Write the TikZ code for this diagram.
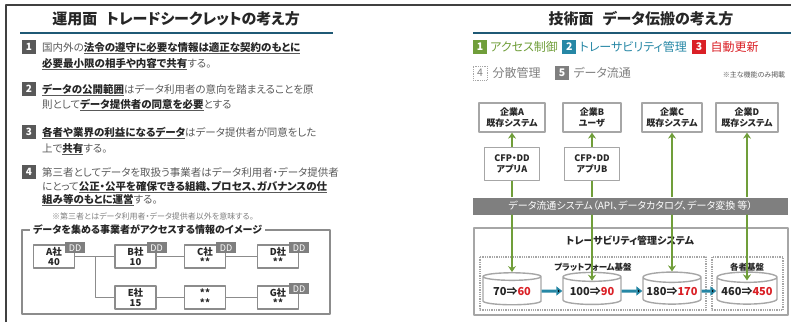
\documentclass[tikz,border=0pt]{standalone}
\usepackage{fontspec}
\setmainfont{Noto Sans CJK JP}[RawFeature={+palt}]
\usetikzlibrary{positioning,shapes.geometric,arrows.meta}
\definecolor{rulebl}{RGB}{31,89,117}
\definecolor{numgray}{RGB}{89,89,89}
\definecolor{txtgray}{RGB}{89,89,89}
\definecolor{txtdark}{RGB}{38,38,38}
\definecolor{boxgray}{RGB}{140,140,140}
\definecolor{ltgray}{RGB}{166,166,166}
\definecolor{bargray}{RGB}{127,127,127}
\definecolor{cgreen}{RGB}{112,158,58}
\definecolor{cteal}{RGB}{38,135,165}
\definecolor{cred}{RGB}{218,32,38}
\newcommand{\kw}[1]{\underline{\textbf{\color{txtdark}#1}}}
\begin{document}
\begin{tikzpicture}[x=1pt,y=-1pt,line join=bevel]
  \tikzstyle{headline}=[font=\bfseries\fontsize{15}{15}\selectfont,text=txtdark]
  \tikzstyle{numbox}=[fill=numgray,text=white,font=\bfseries\fontsize{10}{10}\selectfont,minimum size=14pt,inner sep=0pt]
  \tikzstyle{itemline}=[anchor=base west,inner sep=0pt,text=txtgray,font=\fontsize{10.5}{12}\selectfont]
  \tikzstyle{firm}=[draw=boxgray,line width=1.2pt,fill=white,minimum width=41pt,minimum height=23pt,inner sep=0pt,align=center,font=\bfseries\fontsize{9.5}{10.5}\selectfont,text=txtdark]
  \tikzstyle{ddtag}=[fill=bargray,text=white,minimum width=20pt,minimum height=11pt,inner sep=0pt,font=\fontsize{9}{9}\selectfont]
  \tikzstyle{link}=[draw=boxgray,line width=1pt]
  \tikzstyle{legbox}=[minimum size=14pt,inner sep=0pt,text=white,font=\bfseries\fontsize{10.5}{10.5}\selectfont]
  \tikzstyle{legtext}=[inner sep=0pt,font=\fontsize{12}{12}\selectfont]
  \tikzstyle{sysbox}=[draw=ltgray,line width=1.3pt,fill=white,inner sep=0pt,align=center,font=\bfseries\fontsize{9}{11.5}\selectfont,text=txtdark]
  \tikzstyle{db}=[cylinder,shape border rotate=90,aspect=0.2,draw=ltgray,line width=1.4pt,fill=white,minimum width=58pt,minimum height=32pt,inner sep=0pt,font=\bfseries\fontsize{11}{11}\selectfont,text=txtdark]
  \tikzstyle{flow}=[draw=cgreen,line width=1.8pt,-{Stealth[length=6pt,width=8pt]}]
  \tikzstyle{trace}=[draw=cteal,line width=3pt,-{Triangle[length=6pt,width=9pt]}]

  \useasboundingbox (0,0) rectangle (791,322);
  \draw[line width=2pt,black!75] (6,322) -- (6,5) -- (791,5);

  % operation side
  \node[headline] (T_L) at (176,19) {運用面\hspace{0.6em}トレードシークレットの考え方};
  \draw[rulebl,line width=2.2pt] (20,33) -- (333,33);
  \node[numbox] (N_1) at (29,47) {1};
  \node[itemline] (L_1a) at (42,51) {国内外の\kw{法令の遵守に必要な情報は適正な契約のもとに}};
  \node[itemline] (L_1b) at (42,67) {\kw{必要最小限の相手や内容で共有}する。};
  \node[numbox] (N_2) at (29,89) {2};
  \node[itemline] (L_2a) at (42,93) {\kw{データの公開範囲}はデータ利用者の意向を踏まえることを原};
  \node[itemline] (L_2b) at (42,108) {則として\kw{データ提供者の同意を必要}とする};
  \node[numbox] (N_3) at (29,132) {3};
  \node[itemline] (L_3a) at (42,136) {\kw{各者や業界の利益になるデータ}はデータ提供者が同意をした};
  \node[itemline] (L_3b) at (42,152) {上で\kw{共有}する。};
  \node[numbox] (N_4) at (29,172) {4};
  \node[itemline] (L_4a) at (42,176) {第三者としてデータを取扱う事業者はデータ利用者・データ提供者};
  \node[itemline] (L_4b) at (42,190) {にとって\kw{公正・公平を確保できる組織、プロセス、ガバナンスの仕}};
  \node[itemline] (L_4c) at (42,203) {\kw{組み等のもとに運営}する。};
  \node[itemline,text=bargray,font=\fontsize{8}{8}\selectfont] (L_n) at (52,219) {※第三者とはデータ利用者・データ提供者以外を意味する。};

  \draw[boxgray,line width=1.2pt] (22,230) rectangle (330,314);
  \node[fill=white,inner sep=3pt,anchor=west,text=txtdark,font=\bfseries\fontsize{10}{10}\selectfont] (F_T) at (30,229.5) {データを集める事業者がアクセスする情報のイメージ};
  \coordinate (J) at (95,256.5);
  \path[link] (J) |- (135.5,297.5);
  \node[firm] (A) at (54,256.5) {A社\\40};
  \node[firm] (B) at (135.5,256.5) {B社\\10};
  \node[firm] (C) at (205,256.5) {C社\\**};
  \node[firm] (D) at (278,256.5) {D社\\**};
  \node[firm] (E) at (135.5,297.5) {E社\\15};
  \node[firm] (F) at (205,297.5) {**\\**};
  \node[firm] (G) at (278,297.5) {G社\\**};
  \path[link] (A) edge (B)
              (B) edge (C)
              (C) edge (D)
              (E) edge (F)
              (F) edge (G);
  \node[ddtag] (A_dd) at ([shift={(0,3.5)}]A.north east) {DD};
  \node[ddtag] (B_dd) at ([shift={(0,3.5)}]B.north east) {DD};
  \node[ddtag] (C_dd) at ([shift={(0,3.5)}]C.north east) {DD};
  \node[ddtag] (D_dd) at ([shift={(0,3.5)}]D.north east) {DD};
  \node[ddtag] (G_dd) at ([shift={(0,3.5)}]G.north east) {DD};

  % technical side
  \node[headline] (T_R) at (641,19) {技術面\hspace{0.6em}データ伝搬の考え方};
  \draw[rulebl,line width=2.2pt] (473,33) -- (791,33);
  \node[legbox,fill=cgreen] (K_1) at (480,47) {1};
  \node[legtext,text=cgreen,right=3pt of K_1] (K_1t) {アクセス制御};
  \node[legbox,fill=cteal,right=4pt of K_1t] (K_2) {2};
  \node[legtext,text=cteal,right=3pt of K_2] (K_2t) {トレーサビリティ管理};
  \node[legbox,fill=cred,right=5pt of K_2t] (K_3) {3};
  \node[legtext,text=cred,right=4pt of K_3] (K_3t) {自動更新};
  \node[legbox,draw=ltgray,densely dotted,line width=0.8pt,text=bargray,font=\fontsize{10.5}{10.5}\selectfont] (K_4) at (480,73) {4};
  \node[legtext,text=bargray,right=5pt of K_4] (K_4t) {分散管理};
  \node[legbox,fill=bargray] (K_5) at (562,73) {5};
  \node[legtext,text=bargray,right=4pt of K_5] (K_5t) {データ流通};
  \node[text=txtgray,inner sep=0pt,font=\fontsize{7}{7}\selectfont] (K_n) at (754,75) {※主な機能のみ掲載};

  \node[sysbox,minimum width=66pt,minimum height=29pt] (S_A) at (512,117.5) {企業A\\既存システム};
  \node[sysbox,minimum width=58pt,minimum height=29pt] (S_B) at (592,117.5) {企業B\\ユーザ};
  \node[sysbox,minimum width=60pt,minimum height=29pt] (S_C) at (672,117.5) {企業C\\既存システム};
  \node[sysbox,minimum width=62pt,minimum height=29pt] (S_D) at (747,117.5) {企業D\\既存システム};
  \node[sysbox,minimum width=55pt,minimum height=33pt] (P_A) at (512,164) {CFP・DD\\アプリA};
  \node[sysbox,minimum width=55pt,minimum height=33pt] (P_B) at (592,164) {CFP・DD\\アプリB};
  \node[fill=bargray,text=white,minimum width=315pt,minimum height=17pt,inner sep=0pt,font=\fontsize{10}{10}\selectfont] (BAR) at (630.5,206) {データ流通システム（API、データカタログ、データ変換 等）};

  \draw[ltgray,line width=1.5pt] (474,228) rectangle (788,315);
  \node[text=txtdark,font=\bfseries\fontsize{10}{10}\selectfont] (TR) at (630,241) {トレーサビリティ管理システム};
  \draw[ltgray,line width=1.3pt,densely dotted] (480,257) rectangle (706,310);
  \draw[ltgray,line width=1.3pt,densely dotted] (712,257) rectangle (783,310);
  \node[text=txtdark,font=\bfseries\fontsize{8.5}{8.5}\selectfont] (PF) at (593,267) {プラットフォーム基盤};
  \node[text=txtdark,font=\bfseries\fontsize{8.5}{8.5}\selectfont] (EB) at (747,267) {各者基盤};
  \node[db] (DB_1) at (512,291) {70⇒\textcolor{cred}{60}};
  \node[db] (DB_2) at (592,291) {100⇒\textcolor{cred}{90}};
  \node[db] (DB_3) at (672,291) {180⇒\textcolor{cred}{170}};
  \node[db,minimum width=60pt] (DB_4) at (747,291) {460⇒\textcolor{cred}{450}};

  % flows through the data bar
  \draw[draw=cgreen,line width=1.8pt] (BAR.north -| P_A) -- (P_A);
  \draw[draw=cgreen,line width=1.8pt] (BAR.north -| P_B) -- (P_B);
  \draw[flow] (P_A) -- (S_A);
  \draw[flow] (P_B) -- (S_B);
  \draw[flow] (BAR.north -| S_C) -- (S_C);
  \draw[flow] (BAR.north -| S_D) -- (S_D);
  \draw[flow] (BAR.south -| DB_1) -- (DB_1.north);
  \draw[flow] (BAR.south -| DB_2) -- ([yshift=-9pt]DB_2.north);
  \draw[flow] (BAR.south -| DB_3) -- (DB_3.north);
  \draw[flow] (BAR.south -| DB_4) -- ([yshift=-9pt]DB_4.north);
  \path[trace] (DB_1) edge (DB_2)
               (DB_2) edge (DB_3)
               (DB_3) edge (DB_4);
\end{tikzpicture}
\end{document}
